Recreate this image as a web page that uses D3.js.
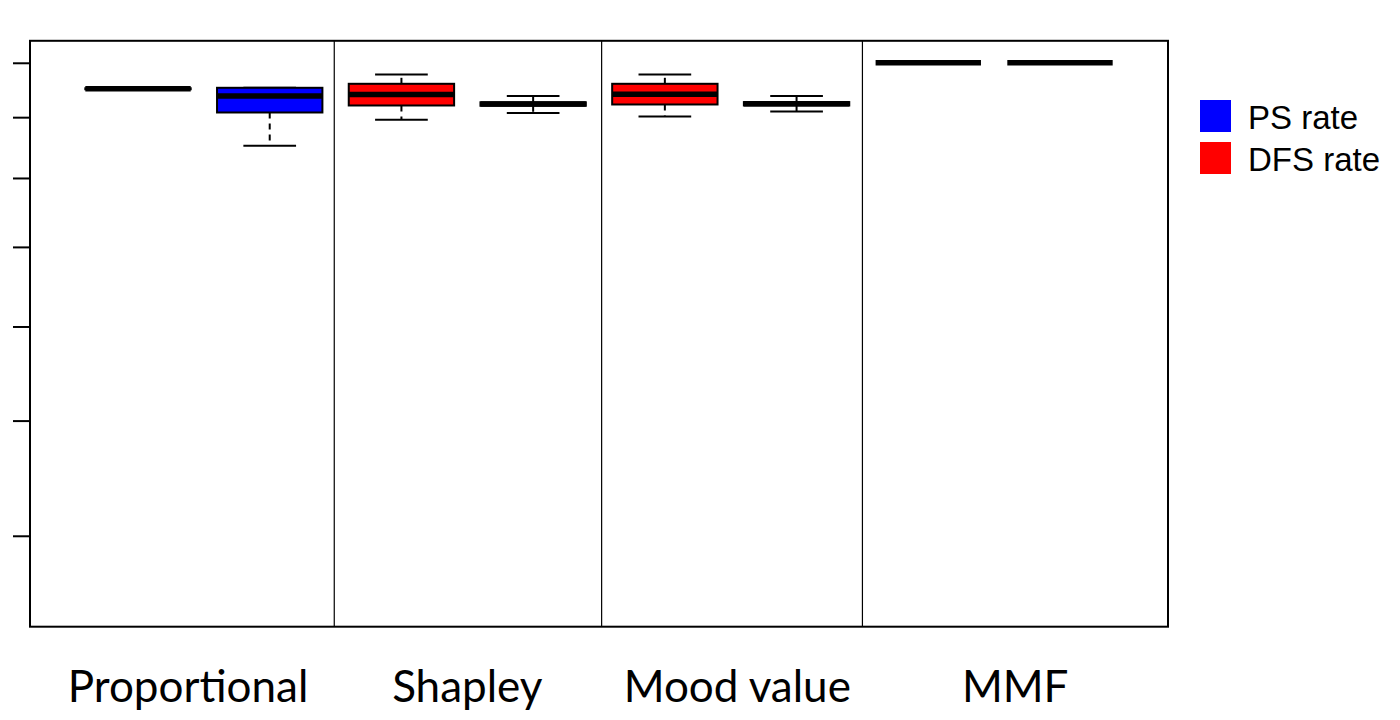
<!DOCTYPE html>
<html>
<head>
<meta charset="utf-8">
<script src="https://cdn.jsdelivr.net/npm/d3@7"></script>
<style>
  body { margin: 0; background: #fff; }
  .cat-label { font-family: Lato, "Open Sans", sans-serif; font-size: 44px; }
  .legend-label { font-family: "Liberation Sans", Arial, sans-serif; font-size: 33px; }
</style>
</head>
<body>
<div class="vis-box"></div>
<script>
const WIDTH = 1400;
const HEIGHT = 720;

// methods and where their labels sit (box index units)
const METHODS = ["Proportional", "Shapley", "Mood value", "MMF"];
const LABEL_POS = [1.38, 3.5, 5.55, 7.66];
const DIVIDERS = [2.49, 4.52, 6.5];

const SERIES = ["PS rate", "DFS rate"];
const SERIES_COLORS = ["blue", "red"];

// five-number stats per method: [low whisker, q1, median, q3, high whisker]
const DFS_STATS = [
  [0.9500, 0.9500, 0.9509, 0.9518, 0.9518],
  [0.8955, 0.9206, 0.9404, 0.9601, 0.9776],
  [0.9012, 0.9224, 0.9408, 0.9601, 0.9776],
  [1.0, 1.0, 1.0, 1.0, 1.0]
];
const PS_STATS = [
  [0.8515, 0.9082, 0.9377, 0.9527, 0.9527],
  [0.9072, 0.9201, 0.9231, 0.9263, 0.9375],
  [0.9100, 0.9206, 0.9236, 0.9267, 0.9375],
  [1.0, 1.0, 1.0, 1.0, 1.0]
];

const Y_TICKS = [1.0, 0.9, 0.8, 0.7, 0.6, 0.5, 0.4];
const Y_LIMITS = [0.3354, 1.0435];
const X_LIMITS = [0.18, 8.82];

const plotBox = { left: 30, right: 1168, top: 40.8, bottom: 626.7 };

const svg = d3.select(".vis-box").append("svg")
  .attr("width", WIDTH)
  .attr("height", HEIGHT);

const xScale = d3.scaleLinear().domain(X_LIMITS).range([plotBox.left, plotBox.right]);
const yScale = d3.scaleLog().domain(Y_LIMITS).range([plotBox.bottom, plotBox.top]);

// boxes: DFS first, PS second within each method
const boxes = [];
METHODS.forEach((m, i) => {
  boxes.push({ pos: 2 * i + 1, stats: DFS_STATS[i], fill: SERIES_COLORS[1] });
  boxes.push({ pos: 2 * i + 2, stats: PS_STATS[i], fill: SERIES_COLORS[0] });
});

const BOX_W = 0.8;
const CAP_W = 0.4;

const g = svg.append("g").attr("class", "boxes");
boxes.forEach(b => {
  const [lo, q1, med, q3, hi] = b.stats;
  const cx = xScale(b.pos);
  const x0 = xScale(b.pos - BOX_W / 2);
  const x1 = xScale(b.pos + BOX_W / 2);
  const c0 = xScale(b.pos - CAP_W / 2);
  const c1 = xScale(b.pos + CAP_W / 2);

  // whiskers
  [[q3, hi], [q1, lo]].forEach(([a, z]) => {
    if (a === z) return;
    g.append("line")
      .attr("x1", cx).attr("x2", cx)
      .attr("y1", yScale(a)).attr("y2", yScale(z))
      .attr("stroke", "#000").attr("stroke-width", 2)
      .attr("stroke-dasharray", "6,5");
  });
  // caps
  [lo, hi].forEach(v => {
    g.append("line")
      .attr("x1", c0).attr("x2", c1)
      .attr("y1", yScale(v)).attr("y2", yScale(v))
      .attr("stroke", "#000").attr("stroke-width", 2);
  });
  // box
  g.append("rect")
    .attr("x", x0)
    .attr("y", yScale(q3))
    .attr("width", x1 - x0)
    .attr("height", Math.max(0, yScale(q1) - yScale(q3)))
    .attr("fill", b.fill)
    .attr("stroke", "#000")
    .attr("stroke-width", 2);
  // median
  g.append("line")
    .attr("x1", x0).attr("x2", x1)
    .attr("y1", yScale(med)).attr("y2", yScale(med))
    .attr("stroke", "#000").attr("stroke-width", 5.5);
});

// group dividers
svg.append("g").selectAll("line").data(DIVIDERS).enter().append("line")
  .attr("x1", d => xScale(d)).attr("x2", d => xScale(d))
  .attr("y1", plotBox.top).attr("y2", plotBox.bottom)
  .attr("stroke", "#000").attr("stroke-width", 1.2);

// frame
svg.append("rect")
  .attr("x", plotBox.left).attr("y", plotBox.top)
  .attr("width", plotBox.right - plotBox.left)
  .attr("height", plotBox.bottom - plotBox.top)
  .attr("fill", "none").attr("stroke", "#000").attr("stroke-width", 2);

// y axis, ticks only
const yAxis = d3.axisLeft(yScale).tickValues(Y_TICKS).tickFormat("").tickSize(17).tickSizeOuter(0);
const yG = svg.append("g").attr("transform", `translate(${plotBox.left},0)`).call(yAxis);
yG.select(".domain").remove();
yG.selectAll(".tick line").attr("stroke", "#000").attr("stroke-width", 2);

// category labels
svg.append("g").selectAll("text").data(METHODS).enter().append("text")
  .attr("class", "cat-label")
  .attr("x", (d, i) => xScale(LABEL_POS[i]))
  .attr("y", 702)
  .attr("text-anchor", "middle")
  .text(d => d);

// legend
const legend = svg.append("g").attr("transform", "translate(1200,100)");
SERIES.forEach((s, i) => {
  legend.append("rect")
    .attr("x", 0).attr("y", i * 42)
    .attr("width", 31).attr("height", 32)
    .attr("fill", SERIES_COLORS[i]);
  legend.append("text")
    .attr("class", "legend-label")
    .attr("x", 48).attr("y", 28.5 + i * 42.4)
    .text(s);
});
</script>
</body>
</html>
